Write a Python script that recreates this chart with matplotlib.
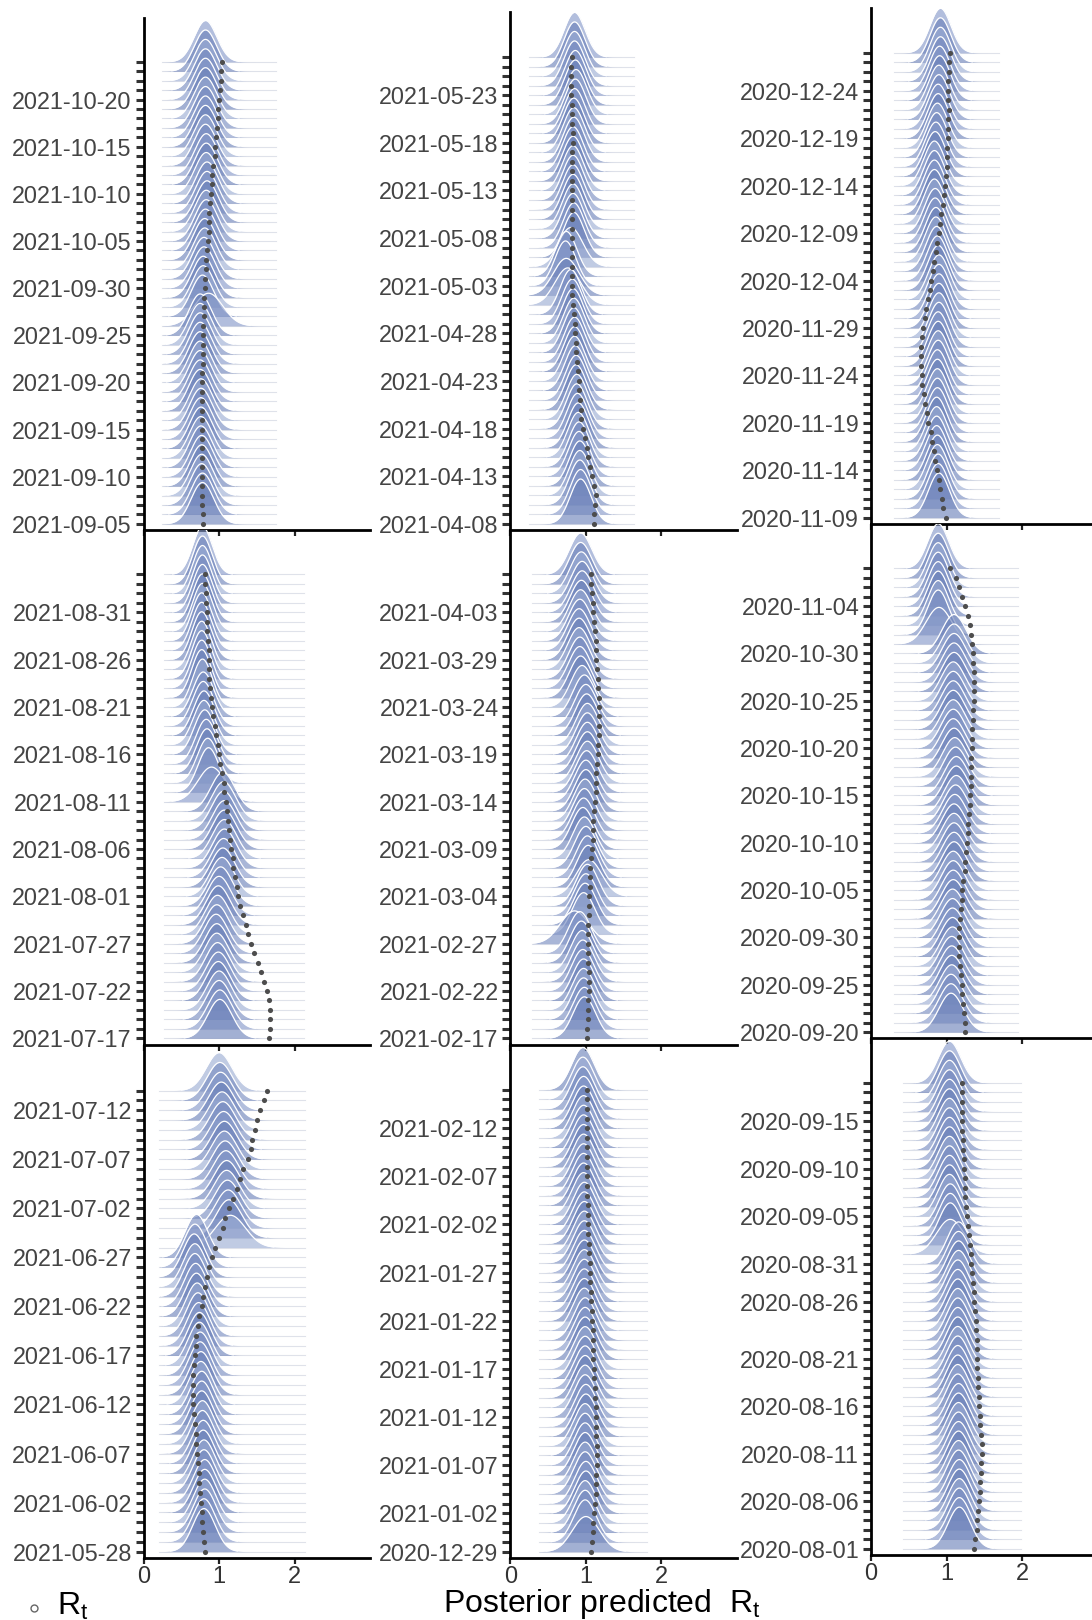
import numpy as np
import matplotlib.pyplot as plt
from matplotlib.lines import Line2D

plt.rcParams['font.family'] = ['Liberation Sans', 'DejaVu Sans']
plt.rcParams['mathtext.default'] = 'regular'

# panels listed column by column (left, middle, right), top to bottom
n_days = [50, 50, 48, 50, 50, 49, 50, 50, 50]

tick_pos = [
    [0, 5, 10, 15, 20, 25, 30, 35, 40, 45],
    [0, 5, 10, 15, 20, 25, 30, 35, 40, 45],
    [0, 5, 10, 15, 20, 25, 30, 35, 40, 45],
    [0, 5, 10, 15, 20, 25, 30, 35, 40, 45],
    [0, 5, 10, 15, 20, 25, 30, 35, 40, 45],
    [0, 4, 9, 14, 19, 24, 29, 34, 39, 44],
    [0, 5, 10, 15, 20, 25, 30, 35, 40, 45],
    [0, 5, 10, 15, 20, 25, 30, 35, 40, 45],
    [0, 5, 10, 15, 20, 26, 30, 35, 40, 45],
]
tick_txt = [
    ['2021-09-05', '2021-09-10', '2021-09-15', '2021-09-20', '2021-09-25',
     '2021-09-30', '2021-10-05', '2021-10-10', '2021-10-15', '2021-10-20'],
    ['2021-07-17', '2021-07-22', '2021-07-27', '2021-08-01', '2021-08-06',
     '2021-08-11', '2021-08-16', '2021-08-21', '2021-08-26', '2021-08-31'],
    ['2021-05-28', '2021-06-02', '2021-06-07', '2021-06-12', '2021-06-17',
     '2021-06-22', '2021-06-27', '2021-07-02', '2021-07-07', '2021-07-12'],
    ['2021-04-08', '2021-04-13', '2021-04-18', '2021-04-23', '2021-04-28',
     '2021-05-03', '2021-05-08', '2021-05-13', '2021-05-18', '2021-05-23'],
    ['2021-02-17', '2021-02-22', '2021-02-27', '2021-03-04', '2021-03-09',
     '2021-03-14', '2021-03-19', '2021-03-24', '2021-03-29', '2021-04-03'],
    ['2020-12-29', '2021-01-02', '2021-01-07', '2021-01-12', '2021-01-17',
     '2021-01-22', '2021-01-27', '2021-02-02', '2021-02-07', '2021-02-12'],
    ['2020-11-09', '2020-11-14', '2020-11-19', '2020-11-24', '2020-11-29',
     '2020-12-04', '2020-12-09', '2020-12-14', '2020-12-19', '2020-12-24'],
    ['2020-09-20', '2020-09-25', '2020-09-30', '2020-10-05', '2020-10-10',
     '2020-10-15', '2020-10-20', '2020-10-25', '2020-10-30', '2020-11-04'],
    ['2020-08-01', '2020-08-06', '2020-08-11', '2020-08-16', '2020-08-21',
     '2020-08-26', '2020-08-31', '2020-09-05', '2020-09-10', '2020-09-15'],
]

# x range covered by the posterior samples of each panel
support = [(0.25, 1.75), (0.27, 2.12), (0.21, 2.14),
           (0.24, 1.64), (0.29, 1.81), (0.38, 1.81),
           (0.30, 1.69), (0.30, 1.95), (0.43, 1.99)]

post_mean = [
    [0.78, 0.78, 0.77, 0.77, 0.77, 0.77, 0.76, 0.76, 0.76, 0.76,
     0.76, 0.76, 0.75, 0.75, 0.75, 0.75, 0.75, 0.75, 0.75, 0.75,
     0.75, 0.86, 0.78, 0.79, 0.79, 0.80, 0.80, 0.81, 0.81, 0.82,
     0.83, 0.83, 0.84, 0.84, 0.84, 0.83, 0.83, 0.83, 0.82, 0.82,
     0.82, 0.82, 0.82, 0.82, 0.82, 0.82, 0.82, 0.82, 0.82, 0.82],
    [1.01, 1.01, 1.00, 1.00, 0.99, 0.99, 0.98, 0.97, 0.97, 0.96,
     0.97, 0.98, 0.99, 1.00, 1.02, 1.04, 1.05, 1.06, 1.07, 1.07,
     1.07, 1.07, 1.06, 1.06, 1.05, 0.90, 0.86, 0.85, 0.84, 0.83,
     0.81, 0.80, 0.80, 0.79, 0.79, 0.78, 0.77, 0.77, 0.77, 0.77,
     0.77, 0.77, 0.77, 0.78, 0.78, 0.78, 0.78, 0.78, 0.78, 0.78],
    [0.80, 0.80, 0.81, 0.81, 0.81, 0.81, 0.80, 0.80, 0.79, 0.79,
     0.78, 0.78, 0.77, 0.77, 0.77, 0.76, 0.76, 0.75, 0.75, 0.74,
     0.74, 0.73, 0.72, 0.71, 0.70, 0.69, 0.68, 0.68, 0.67, 0.68,
     0.70, 1.15, 1.13, 1.12, 1.11, 1.10, 1.10, 1.09, 1.08, 1.07,
     1.07, 1.06, 1.05, 1.04, 1.03, 1.02, 1.01, 1.00],
    [0.93, 0.93, 0.92, 0.92, 0.92, 0.91, 0.91, 0.90, 0.90, 0.89,
     0.88, 0.88, 0.87, 0.87, 0.86, 0.85, 0.85, 0.85, 0.84, 0.84,
     0.83, 0.82, 0.80, 0.76, 0.74, 0.73, 0.74, 0.80, 0.84, 0.84,
     0.83, 0.83, 0.83, 0.83, 0.83, 0.83, 0.83, 0.83, 0.84, 0.84,
     0.84, 0.85, 0.86, 0.87, 0.86, 0.86, 0.85, 0.85, 0.85, 0.85],
    [0.98, 0.98, 0.97, 0.97, 0.97, 0.96, 0.96, 0.95, 0.94, 0.92,
     0.85, 0.97, 0.99, 1.00, 1.02, 1.04, 1.03, 1.02, 1.00, 0.98,
     0.96, 0.97, 0.98, 0.99, 1.00, 1.00, 1.01, 1.02, 1.02, 1.02,
     1.02, 1.02, 1.01, 1.00, 0.98, 0.95, 0.93, 0.92, 0.92, 0.91,
     0.91, 0.91, 0.92, 0.93, 0.94, 0.95, 0.95, 0.94, 0.93, 0.93],
    [1.00, 0.99, 0.99, 0.99, 1.00, 1.00, 0.99, 0.99, 0.99, 0.99,
     0.99, 0.99, 1.00, 1.00, 0.99, 0.99, 0.99, 0.99, 0.99, 0.99,
     0.99, 0.99, 0.99, 0.98, 0.98, 0.98, 0.98, 0.98, 0.98, 0.98,
     0.98, 0.98, 0.98, 0.98, 0.98, 0.97, 0.97, 0.97, 0.97, 0.97,
     0.97, 0.97, 0.97, 0.97, 0.97, 0.97, 0.96, 0.96, 0.96],
    [0.90, 0.89, 0.89, 0.88, 0.88, 0.87, 0.87, 0.87, 0.87, 0.88,
     0.88, 0.88, 0.88, 0.88, 0.89, 0.89, 0.89, 0.89, 0.90, 0.90,
     0.90, 0.90, 0.90, 0.90, 0.89, 0.88, 0.87, 0.86, 0.86, 0.85,
     0.85, 0.84, 0.84, 0.84, 0.84, 0.84, 0.85, 0.86, 0.87, 0.88,
     0.89, 0.89, 0.90, 0.90, 0.91, 0.91, 0.92, 0.92, 0.92, 0.92],
    [1.06, 1.06, 1.06, 1.07, 1.07, 1.07, 1.07, 1.08, 1.08, 1.08,
     1.08, 1.08, 1.09, 1.09, 1.09, 1.09, 1.10, 1.10, 1.10, 1.10,
     1.10, 1.11, 1.12, 1.13, 1.13, 1.13, 1.12, 1.11, 1.10, 1.09,
     1.09, 1.09, 1.09, 1.09, 1.09, 1.09, 1.10, 1.10, 1.10, 1.10,
     1.10, 0.90, 0.89, 0.89, 0.89, 0.89, 0.89, 0.89, 0.89, 0.89],
    [1.17, 1.17, 1.17, 1.17, 1.17, 1.17, 1.16, 1.16, 1.16, 1.16,
     1.16, 1.16, 1.16, 1.16, 1.15, 1.15, 1.15, 1.15, 1.15, 1.15,
     1.15, 1.15, 1.15, 1.15, 1.15, 1.15, 1.15, 1.16, 1.16, 1.16,
     1.16, 1.05, 1.05, 1.05, 1.05, 1.04, 1.04, 1.04, 1.04, 1.04,
     1.04, 1.04, 1.04, 1.04, 1.04, 1.04, 1.04, 1.04, 1.04, 1.04],
]

post_sd = [
    [0.15, 0.15, 0.15, 0.15, 0.15, 0.15, 0.15, 0.15, 0.15, 0.15,
     0.15, 0.15, 0.15, 0.15, 0.15, 0.15, 0.15, 0.15, 0.15, 0.15,
     0.15, 0.19, 0.15, 0.15, 0.15, 0.15, 0.15, 0.15, 0.15, 0.15,
     0.15, 0.15, 0.15, 0.15, 0.15, 0.15, 0.15, 0.15, 0.15, 0.15,
     0.15, 0.15, 0.15, 0.15, 0.15, 0.15, 0.15, 0.15, 0.15, 0.15],
    [0.16, 0.16, 0.16, 0.16, 0.16, 0.16, 0.16, 0.16, 0.16, 0.16,
     0.16, 0.16, 0.16, 0.16, 0.16, 0.16, 0.16, 0.16, 0.16, 0.16,
     0.16, 0.16, 0.16, 0.16, 0.16, 0.18, 0.14, 0.14, 0.14, 0.14,
     0.14, 0.14, 0.14, 0.14, 0.14, 0.13, 0.13, 0.13, 0.13, 0.13,
     0.13, 0.13, 0.13, 0.13, 0.13, 0.13, 0.13, 0.13, 0.13, 0.13],
    [0.15, 0.15, 0.15, 0.15, 0.15, 0.15, 0.15, 0.15, 0.15, 0.15,
     0.15, 0.15, 0.15, 0.15, 0.15, 0.15, 0.15, 0.15, 0.15, 0.15,
     0.15, 0.15, 0.15, 0.15, 0.15, 0.15, 0.15, 0.15, 0.15, 0.15,
     0.15, 0.20, 0.17, 0.17, 0.17, 0.17, 0.17, 0.17, 0.17, 0.17,
     0.17, 0.17, 0.17, 0.17, 0.17, 0.17, 0.17, 0.17],
    [0.14, 0.14, 0.14, 0.14, 0.14, 0.14, 0.14, 0.14, 0.14, 0.14,
     0.14, 0.14, 0.14, 0.14, 0.14, 0.14, 0.14, 0.14, 0.14, 0.14,
     0.14, 0.14, 0.14, 0.17, 0.17, 0.14, 0.14, 0.16, 0.14, 0.14,
     0.14, 0.14, 0.14, 0.14, 0.14, 0.14, 0.14, 0.14, 0.14, 0.14,
     0.14, 0.14, 0.14, 0.14, 0.14, 0.14, 0.14, 0.14, 0.14, 0.14],
    [0.15, 0.15, 0.15, 0.15, 0.15, 0.15, 0.15, 0.15, 0.15, 0.15,
     0.19, 0.15, 0.15, 0.15, 0.15, 0.17, 0.15, 0.15, 0.15, 0.15,
     0.15, 0.15, 0.15, 0.15, 0.15, 0.15, 0.15, 0.15, 0.15, 0.15,
     0.15, 0.15, 0.15, 0.15, 0.15, 0.15, 0.15, 0.15, 0.15, 0.15,
     0.15, 0.15, 0.15, 0.15, 0.15, 0.15, 0.15, 0.15, 0.15, 0.15],
    [0.18, 0.15, 0.15, 0.15, 0.15, 0.15, 0.15, 0.15, 0.15, 0.15,
     0.15, 0.15, 0.15, 0.15, 0.15, 0.15, 0.15, 0.15, 0.15, 0.15,
     0.15, 0.15, 0.15, 0.15, 0.15, 0.15, 0.15, 0.15, 0.15, 0.15,
     0.15, 0.15, 0.15, 0.15, 0.15, 0.15, 0.15, 0.15, 0.15, 0.15,
     0.15, 0.15, 0.15, 0.15, 0.15, 0.15, 0.15, 0.15, 0.15],
    [0.14, 0.14, 0.14, 0.14, 0.14, 0.14, 0.14, 0.14, 0.14, 0.14,
     0.14, 0.14, 0.14, 0.14, 0.14, 0.14, 0.14, 0.14, 0.14, 0.14,
     0.14, 0.14, 0.14, 0.14, 0.14, 0.14, 0.14, 0.14, 0.14, 0.14,
     0.14, 0.14, 0.14, 0.14, 0.14, 0.14, 0.14, 0.14, 0.14, 0.14,
     0.14, 0.14, 0.14, 0.14, 0.14, 0.14, 0.14, 0.14, 0.14, 0.14],
    [0.16, 0.16, 0.16, 0.16, 0.16, 0.16, 0.16, 0.16, 0.16, 0.16,
     0.16, 0.16, 0.16, 0.16, 0.16, 0.16, 0.16, 0.16, 0.16, 0.16,
     0.16, 0.16, 0.16, 0.16, 0.16, 0.16, 0.16, 0.16, 0.16, 0.16,
     0.16, 0.16, 0.16, 0.16, 0.16, 0.16, 0.16, 0.16, 0.16, 0.16,
     0.16, 0.17, 0.14, 0.14, 0.14, 0.14, 0.14, 0.14, 0.14, 0.14],
    [0.15, 0.15, 0.15, 0.15, 0.15, 0.15, 0.15, 0.15, 0.15, 0.15,
     0.15, 0.15, 0.15, 0.15, 0.15, 0.15, 0.15, 0.15, 0.15, 0.15,
     0.15, 0.15, 0.15, 0.15, 0.15, 0.15, 0.15, 0.15, 0.15, 0.15,
     0.15, 0.18, 0.15, 0.15, 0.15, 0.15, 0.15, 0.15, 0.15, 0.15,
     0.15, 0.15, 0.15, 0.15, 0.15, 0.15, 0.15, 0.15, 0.15, 0.15],
]

rt_obs = [
    [0.79, 0.79, 0.78, 0.78, 0.78, 0.78, 0.78, 0.78, 0.78, 0.78,
     0.78, 0.78, 0.78, 0.78, 0.78, 0.78, 0.78, 0.79, 0.79, 0.79,
     0.79, 0.79, 0.80, 0.80, 0.80, 0.81, 0.81, 0.82, 0.83, 0.84,
     0.85, 0.86, 0.87, 0.87, 0.88, 0.89, 0.90, 0.91, 0.92, 0.94,
     0.95, 0.96, 0.97, 0.98, 0.99, 1.00, 1.01, 1.02, 1.03, 1.04],
    [1.66, 1.67, 1.67, 1.67, 1.66, 1.64, 1.59, 1.56, 1.52, 1.46,
     1.42, 1.38, 1.36, 1.32, 1.28, 1.25, 1.24, 1.21, 1.19, 1.18,
     1.16, 1.15, 1.13, 1.12, 1.10, 1.09, 1.07, 1.06, 1.04, 1.01,
     1.00, 0.98, 0.96, 0.95, 0.92, 0.91, 0.89, 0.88, 0.87, 0.87,
     0.86, 0.86, 0.85, 0.84, 0.84, 0.84, 0.83, 0.82, 0.81, 0.81],
    [0.81, 0.80, 0.79, 0.78, 0.77, 0.76, 0.75, 0.74, 0.73, 0.72,
     0.71, 0.70, 0.69, 0.68, 0.67, 0.66, 0.66, 0.66, 0.66, 0.67,
     0.68, 0.69, 0.70, 0.72, 0.74, 0.77, 0.79, 0.81, 0.84, 0.87,
     0.91, 0.95, 1.00, 1.05, 1.08, 1.13, 1.19, 1.24, 1.28, 1.32,
     1.38, 1.42, 1.44, 1.47, 1.50, 1.54, 1.60, 1.64],
    [1.11, 1.11, 1.12, 1.13, 1.11, 1.08, 1.05, 1.03, 1.01, 0.99,
     0.96, 0.94, 0.93, 0.92, 0.91, 0.91, 0.90, 0.88, 0.87, 0.87,
     0.86, 0.85, 0.84, 0.83, 0.82, 0.82, 0.82, 0.81, 0.81, 0.81,
     0.81, 0.81, 0.81, 0.81, 0.81, 0.81, 0.82, 0.82, 0.82, 0.82,
     0.83, 0.83, 0.82, 0.82, 0.81, 0.80, 0.80, 0.80, 0.80, 0.81],
    [1.02, 1.02, 1.03, 1.03, 1.03, 1.04, 1.04, 1.04, 1.03, 1.03,
     1.03, 1.03, 1.03, 1.04, 1.04, 1.04, 1.05, 1.05, 1.06, 1.07,
     1.08, 1.09, 1.10, 1.10, 1.11, 1.12, 1.13, 1.14, 1.14, 1.15,
     1.16, 1.16, 1.17, 1.17, 1.17, 1.17, 1.17, 1.16, 1.16, 1.15,
     1.14, 1.13, 1.13, 1.12, 1.11, 1.10, 1.09, 1.08, 1.07, 1.07],
    [1.07, 1.08, 1.09, 1.10, 1.11, 1.12, 1.13, 1.13, 1.14, 1.15,
     1.15, 1.15, 1.14, 1.14, 1.13, 1.13, 1.12, 1.12, 1.11, 1.11,
     1.10, 1.10, 1.09, 1.09, 1.08, 1.08, 1.07, 1.07, 1.06, 1.05,
     1.05, 1.04, 1.04, 1.03, 1.03, 1.03, 1.03, 1.02, 1.02, 1.02,
     1.02, 1.02, 1.01, 1.01, 1.01, 1.01, 1.01, 1.02, 1.02],
    [0.99, 0.96, 0.94, 0.92, 0.90, 0.87, 0.85, 0.83, 0.81, 0.79,
     0.76, 0.74, 0.72, 0.70, 0.68, 0.67, 0.66, 0.66, 0.66, 0.67,
     0.69, 0.71, 0.73, 0.75, 0.78, 0.80, 0.82, 0.84, 0.86, 0.88,
     0.90, 0.92, 0.93, 0.95, 0.97, 0.98, 0.99, 1.00, 1.01, 1.01,
     1.02, 1.02, 1.02, 1.03, 1.02, 1.02, 1.02, 1.03, 1.03, 1.04],
    [1.24, 1.24, 1.23, 1.22, 1.21, 1.20, 1.19, 1.18, 1.17, 1.17,
     1.17, 1.17, 1.18, 1.19, 1.20, 1.21, 1.22, 1.24, 1.25, 1.26,
     1.27, 1.28, 1.29, 1.30, 1.31, 1.31, 1.32, 1.32, 1.33, 1.33,
     1.34, 1.34, 1.34, 1.35, 1.35, 1.36, 1.36, 1.36, 1.36, 1.35,
     1.35, 1.34, 1.33, 1.31, 1.28, 1.24, 1.20, 1.16, 1.12, 1.05],
    [1.36, 1.38, 1.40, 1.41, 1.42, 1.43, 1.44, 1.45, 1.46, 1.46,
     1.47, 1.47, 1.46, 1.45, 1.44, 1.43, 1.43, 1.42, 1.42, 1.41,
     1.41, 1.40, 1.40, 1.39, 1.39, 1.38, 1.37, 1.36, 1.35, 1.34,
     1.33, 1.32, 1.31, 1.30, 1.28, 1.27, 1.26, 1.25, 1.24, 1.24,
     1.23, 1.23, 1.22, 1.22, 1.21, 1.21, 1.21, 1.21, 1.21, 1.21],
]

W, H = 1092, 1620
fig = plt.figure(figsize=(W / 100, H / 100), dpi=100)

col_left = [143.6, 510.4, 871.0]
col_w = 226.5
row_edges = [[17.6, 530, 1044.5, 1558],
             [12.4, 530, 1044.5, 1558],
             [8.3, 523.8, 1038.3, 1555]]
fills = ['#6a80b8', '#8497c8', '#7489bf', '#9aabd3']

for k in range(9):
    c, r = divmod(k, 3)
    top, bot = row_edges[c][r], row_edges[c][r + 1]
    ax = fig.add_axes([col_left[c] / W, 1 - bot / H, col_w / W, (bot - top) / H])
    ax.patch.set_visible(False)  # keep spine/ticks of the panel above visible
    n = n_days[k]
    lo, hi = support[k]
    xs = np.linspace(lo, hi, 400)

    # lower ridges sit in front of upper ones
    for i in range(n - 1, -1, -1):
        m, s = post_mean[k][i], post_sd[k][i]
        dens = 1.65 * np.exp(-0.5 * ((xs - m) / s) ** 2) / (s * np.sqrt(2 * np.pi))
        z = 2 + (n - i) / n
        ax.plot([lo, hi], [i, i], color='#dfe2ea', lw=0.8, zorder=z - 0.001)
        ax.fill_between(xs, i, i + dens, color=fills[i % 4], alpha=0.62, lw=0, zorder=z)
        edge = np.where(dens > 0.05, i + dens, np.nan)
        ax.plot(xs, edge, color='white', lw=0.9, zorder=z + 0.0005)

    ax.plot(rt_obs[k], np.arange(n), 'o', ms=3.7, color='#4d4d4d', mec='none',
            zorder=5, clip_on=False)

    ax.set_xlim(0, 3)
    ax.set_ylim(-0.65, n + 3.7)
    ax.spines[['top', 'right']].set_visible(False)
    for side in ['left', 'bottom']:
        ax.spines[side].set_linewidth(2.0)
        ax.spines[side].set_color('black')
        ax.spines[side].set_zorder(6)

    ax.set_yticks(tick_pos[k])
    ax.set_yticklabels(tick_txt[k])
    ax.set_yticks(np.arange(n), minor=True)
    ax.tick_params(axis='y', which='both', length=5.5, width=2.2, color='#333333',
                   labelsize=16.8, labelcolor='#444444', pad=3)
    ax.set_xticks([0, 1, 2])
    ax.tick_params(axis='x', length=4, width=1.6, color='#222222',
                   labelsize=17, labelcolor='#333333', pad=2,
                   labelbottom=(r == 2))

fig.add_artist(Line2D([34 / W], [1 - 1608 / H], marker='o', ms=5, mfc='white',
                      mec='#666666', mew=1.0, transform=fig.transFigure))
fig.text(57 / W, 1 - 1606 / H, r'$R_t$', fontsize=23, va='center', ha='left')
fig.text(602 / W, 1 - 1604 / H, r'Posterior predicted  $R_t$', fontsize=23,
         va='center', ha='center')

fig.savefig('out.png', dpi=100, facecolor='white')
